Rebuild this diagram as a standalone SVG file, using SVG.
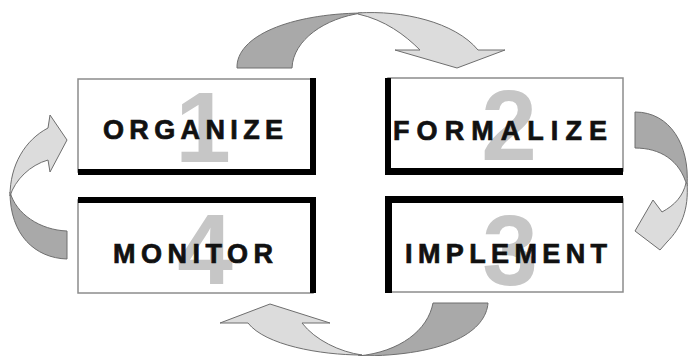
<svg xmlns="http://www.w3.org/2000/svg" width="689" height="356" viewBox="0 0 689 356">
  <style>
    .frame { fill: #ffffff; stroke: #8c8c8c; stroke-width: 1.5; }
    .edge { fill: #000000; }
    .num { font-family: "Liberation Sans", Arial, sans-serif; font-weight: bold; font-size: 100px; fill: #c6c6c6; text-anchor: middle; }
    .label { font-family: "Liberation Sans", Arial, sans-serif; font-weight: bold; font-size: 27px; fill: #111111; stroke: #111111; stroke-width: 0.7; }
    .dark { fill: #a9a9a9; stroke: #6e6e6e; stroke-width: 1; stroke-linejoin: round; }
    .light { fill: #dcdcdc; stroke: #6e6e6e; stroke-width: 1; stroke-linejoin: round; }
  </style>
  <rect width="689" height="356" fill="#ffffff"/>

  <!-- curved block arrows between the steps -->
  <g id="connectors">
    <!-- top: 1 -> 2 -->
    <path class="dark" d="M237,68 C236,36 290,14 362,13 C325,18 293,40 292,68 Z"/>
    <path class="light" d="M358,13 C402,10 455,22 478,50 L505,50 L457,68 L395,50 L420,50 C405,35 385,20 358,14 Z"/>
    <!-- right: 2 -> 3 -->
    <path class="dark" d="M635,112 L635,148 C660,148 680,160 687,186 C690,145 670,112 635,112 Z"/>
    <path class="light" d="M687,183 C689,210 681,228 667,242 L660,250 L635,231 L653,200 L662,212 C675,205 683,196 686,183 Z"/>
    <!-- bottom: 3 -> 4 -->
    <path class="dark" d="M433,303 L488,303 C486,330 450,356 358,356 C400,352 428,330 433,303 Z"/>
    <path class="light" d="M362,355 C320,355 265,345 248,323 L220,323 L270,304 L330,323 L302,323 C315,340 340,352 362,355 Z"/>
    <!-- left: 4 -> 1 -->
    <path class="dark" d="M67,231 L67,259 C35,258 10,235 10,192 C16,214 40,230 67,231 Z"/>
    <path class="light" d="M10,196 C10,165 25,140 48,128 L50,115 L67,140 L50,172 L48,160 C30,165 15,180 10,196 Z"/>
  </g>

  <g id="step1">
    <rect class="frame" x="78" y="79" width="235" height="93"/>
    <rect class="edge" x="310" y="78" width="6" height="97"/>
    <rect class="edge" x="78" y="169" width="238" height="6"/>
    <text class="num" x="203" y="162">1</text>
    <text class="label" x="103" y="139" textLength="180" lengthAdjust="spacing">ORGANIZE</text>
  </g>

  <g id="step2">
    <rect class="frame" x="388" y="78" width="235" height="93"/>
    <rect class="edge" x="385" y="78" width="6" height="97"/>
    <rect class="edge" x="385" y="168" width="238" height="7"/>
    <text class="num" x="509" y="160">2</text>
    <text class="label" x="393" y="140" textLength="214" lengthAdjust="spacing">FORMALIZE</text>
  </g>

  <g id="step3">
    <rect class="frame" x="388" y="199" width="235" height="93"/>
    <rect class="edge" x="385" y="196" width="238" height="7"/>
    <rect class="edge" x="385" y="196" width="7" height="97"/>
    <text class="num" x="510" y="285">3</text>
    <text class="label" x="405" y="263" textLength="202" lengthAdjust="spacing">IMPLEMENT</text>
  </g>

  <g id="step4">
    <rect class="frame" x="78" y="200" width="235" height="93"/>
    <rect class="edge" x="78" y="197" width="238" height="6"/>
    <rect class="edge" x="310" y="197" width="6" height="96"/>
    <text class="num" x="205" y="284">4</text>
    <text class="label" x="113" y="263" textLength="160" lengthAdjust="spacing">MONITOR</text>
  </g>
</svg>
